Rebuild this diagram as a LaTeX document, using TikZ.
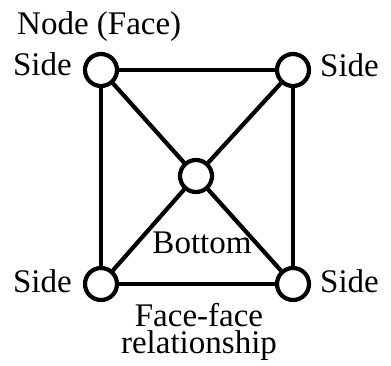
\documentclass[tikz,border=0pt]{standalone}
\usepackage{fontspec}
\setmainfont{Liberation Serif}
\begin{document}
\begin{tikzpicture}[
        x=1pt,  % 1 px of the sketch = 1pt
        y=1pt,
        face/.style={draw, circle, line width=4.2pt, minimum size=32pt, inner sep=0pt},
        rel/.style={line width=4.2pt},
        lbl/.style={font=\fontsize{33}{25}\selectfont, inner sep=0pt},
    ]
    \useasboundingbox (0, 0) rectangle (391, 365);

    % Faces as nodes
    \node[face] (topleft) at (101, 295) {};
    \node[face] (topright) at (293, 295) {};
    \node[face] (bottom) at (196, 189) {};
    \node[face] (botleft) at (101, 81) {};
    \node[face] (botright) at (293, 81) {};

    % Face-face relationships (outer square)
    \draw[rel] (topleft) -- (topright);
    \draw[rel] (topleft) -- (botleft);
    \draw[rel] (topright) -- (botright);
    \draw[rel] (botleft) -- (botright);

    % Face-face relationships (to the bottom face)
    \foreach \side in {topleft, topright, botleft, botright} {
        \draw[rel] (\side) -- (bottom);
    }

    % Title
    \node[lbl, anchor=base west] (title) at (17, 330) {Node (Face)};

    % Side labels
    \node[lbl, anchor=base east] (sidetl) at (72, 289) {Side};
    \node[lbl, anchor=base west] (sidetr) at (320, 288) {Side};
    \node[lbl, anchor=base east] (sidebl) at (72, 73) {Side};
    \node[lbl, anchor=base west] (sidebr) at (320, 73) {Side};

    % Bottom face label
    \node[lbl, anchor=base] (bottomlbl) at (202, 112) {Bottom};

    % Relationship label (base = last line)
    \node[lbl, anchor=base, align=center] (rellbl) at (199, 12) {Face-face\\[2pt]relationship};

\end{tikzpicture}
\end{document}
